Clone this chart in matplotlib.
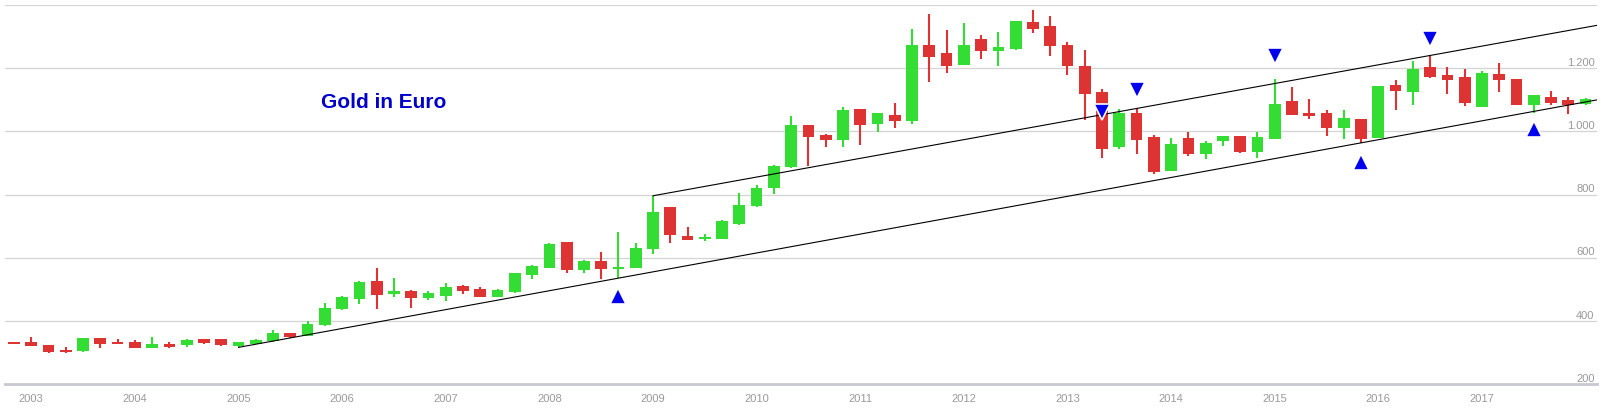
import matplotlib
matplotlib.use("Agg")
import matplotlib.pyplot as plt
from matplotlib.transforms import blended_transform_factory

plt.rcParams['font.family'] = ['Liberation Sans', 'DejaVu Sans']

# bi-monthly candles, Nov 2002 .. Jan 2018 (gold price in EUR)
opens = [332, 334, 324, 308, 303, 346, 334, 334, 314, 327, 322, 342, 342, 320, 327, 335,
         362, 353, 388, 436, 468, 526, 484, 494, 473, 480, 511, 502, 477, 490, 546, 568,
         649, 560, 591, 565, 568, 627, 759, 670, 658, 660, 706, 763, 819, 887, 1019, 987,
         973, 1070, 1023, 1051, 1032, 1273, 1247, 1210, 1292, 1255, 1260, 1346, 1332, 1274,
         1208, 1124, 949, 1057, 981, 874, 978, 928, 970, 984, 936, 976, 1095, 1057, 1057,
         1010, 1038, 980, 1146, 1126, 1203, 1178, 1172, 1077, 1181, 1165, 1084, 1110, 1098, 1085]
highs = [333, 349, 325, 318, 347, 347, 341, 338, 349, 333, 341, 344, 344, 334, 341, 370,
         363, 399, 457, 478, 525, 567, 536, 499, 496, 521, 512, 508, 500, 553, 576, 646,
         651, 592, 619, 680, 648, 796, 760, 697, 676, 719, 806, 829, 893, 1048, 1020, 993,
         1076, 1071, 1058, 1089, 1324, 1371, 1320, 1343, 1305, 1314, 1350, 1384, 1364, 1283,
         1257, 1134, 1070, 1073, 988, 978, 997, 970, 985, 985, 997, 1165, 1140, 1102, 1066,
         1066, 1039, 1144, 1163, 1223, 1240, 1203, 1198, 1190, 1216, 1166, 1115, 1127, 1110, 1105]
lows = [328, 320, 298, 299, 302, 314, 326, 314, 313, 313, 318, 328, 321, 318, 326, 334,
        347, 352, 383, 435, 452, 438, 477, 441, 467, 464, 484, 476, 476, 489, 531, 567,
        553, 550, 531, 535, 566, 613, 648, 655, 652, 659, 705, 762, 801, 885, 890, 950,
        951, 957, 999, 1010, 1022, 1155, 1184, 1209, 1228, 1206, 1259, 1312, 1240, 1179,
        1036, 917, 944, 928, 865, 873, 923, 912, 955, 931, 916, 975, 1051, 1039, 986,
        976, 962, 979, 1068, 1082, 1170, 1119, 1081, 1077, 1126, 1083, 1059, 1082, 1055, 1084]
closes = [329, 321, 300, 300, 346, 327, 327, 315, 326, 318, 340, 330, 322, 333, 340, 361,
          348, 390, 441, 475, 523, 481, 493, 473, 487, 507, 494, 477, 499, 552, 575, 644,
          560, 591, 563, 572, 632, 746, 671, 657, 667, 715, 768, 822, 890, 1019, 982, 972,
          1067, 1020, 1057, 1034, 1273, 1235, 1207, 1273, 1255, 1267, 1349, 1325, 1269, 1207,
          1118, 944, 1057, 973, 872, 961, 928, 964, 984, 933, 981, 1086, 1052, 1047, 1012,
          1041, 976, 1143, 1128, 1198, 1172, 1163, 1089, 1184, 1163, 1084, 1114, 1091, 1084, 1102]

years = [str(y) for y in range(2003, 2018)]
year_idx = [1 + 6 * k for k in range(len(years))]

grid_vals = [400, 600, 800, 1000, 1200, 1400]
ytick_vals = [200, 400, 600, 800, 1000, 1200]
ytick_labels = ["200", "400", "600", "800", "1.000", "1.200"]

# trend channel endpoints (candle index, price)
lower_x = [13.0, 91.7]
lower_y = [316, 1100]
upper_x = [37.0, 91.7]
upper_y = [796, 1336]

# buy / sell signal markers
up_idx = [35, 78, 88]
up_val = [478, 902, 1007]
down_idx = [63, 65, 73, 82]
down_val = [1060, 1130, 1237, 1292]

GREEN = '#33dd33'
RED = '#dd3333'

fig = plt.figure(figsize=(16.04, 4.14), dpi=100)
ax = fig.add_axes([5 / 1604, 29 / 414, 1592 / 1604, 379 / 414])
ax.set_xlim(-0.521, 91.66)
ax.set_ylim(200, 1400)
ax.axis('off')

for v in grid_vals:
    ax.axhline(v, color='#d4d4d4', lw=0.9, zorder=0)
ax.axhline(200, color='#c8c8d2', lw=2.0, zorder=0, clip_on=False)

# candles
min_body = 7
for i, (o, h, l, c) in enumerate(zip(opens, highs, lows, closes)):
    col = GREEN if c >= o else RED
    ax.vlines(i, l, h, color=col, lw=1.5, zorder=2)
    lo, hi = min(o, c), max(o, c)
    if hi - lo < min_body:
        mid = (hi + lo) / 2
        lo, hi = mid - min_body / 2, mid + min_body / 2
    ax.bar(i, hi - lo, bottom=lo, width=0.68, color=col, lw=0, zorder=3)

# channel
ax.plot(lower_x, lower_y, color='black', lw=0.8, zorder=4)
ax.plot(upper_x, upper_y, color='black', lw=0.8, zorder=4)

# signals
ax.plot(up_idx, up_val, '^', color='#0000ee', ms=11, mec='white', mew=1.2, zorder=5, ls='none')
ax.plot(down_idx, down_val, 'v', color='#0000ee', ms=11, mec='white', mew=1.2, zorder=5, ls='none')

# labels
ty = blended_transform_factory(ax.transAxes, ax.transData)
for v, lab in zip(ytick_vals, ytick_labels):
    ax.text(0.9985, v + 4, lab, transform=ty, ha='right', va='bottom',
            fontsize=8, color='#999999')

tx = blended_transform_factory(ax.transData, ax.transAxes)
for i, lab in zip(year_idx, years):
    ax.text(i, -0.036, lab, transform=tx, ha='center', va='center',
            fontsize=8, color='#999999')

fig.text(384 / 1604, 1 - 103 / 414, 'Gold in Euro', ha='center', va='center',
         fontsize=15, fontweight='bold', color='#0000cc')

fig.savefig('out.png', dpi=100, facecolor='white')
